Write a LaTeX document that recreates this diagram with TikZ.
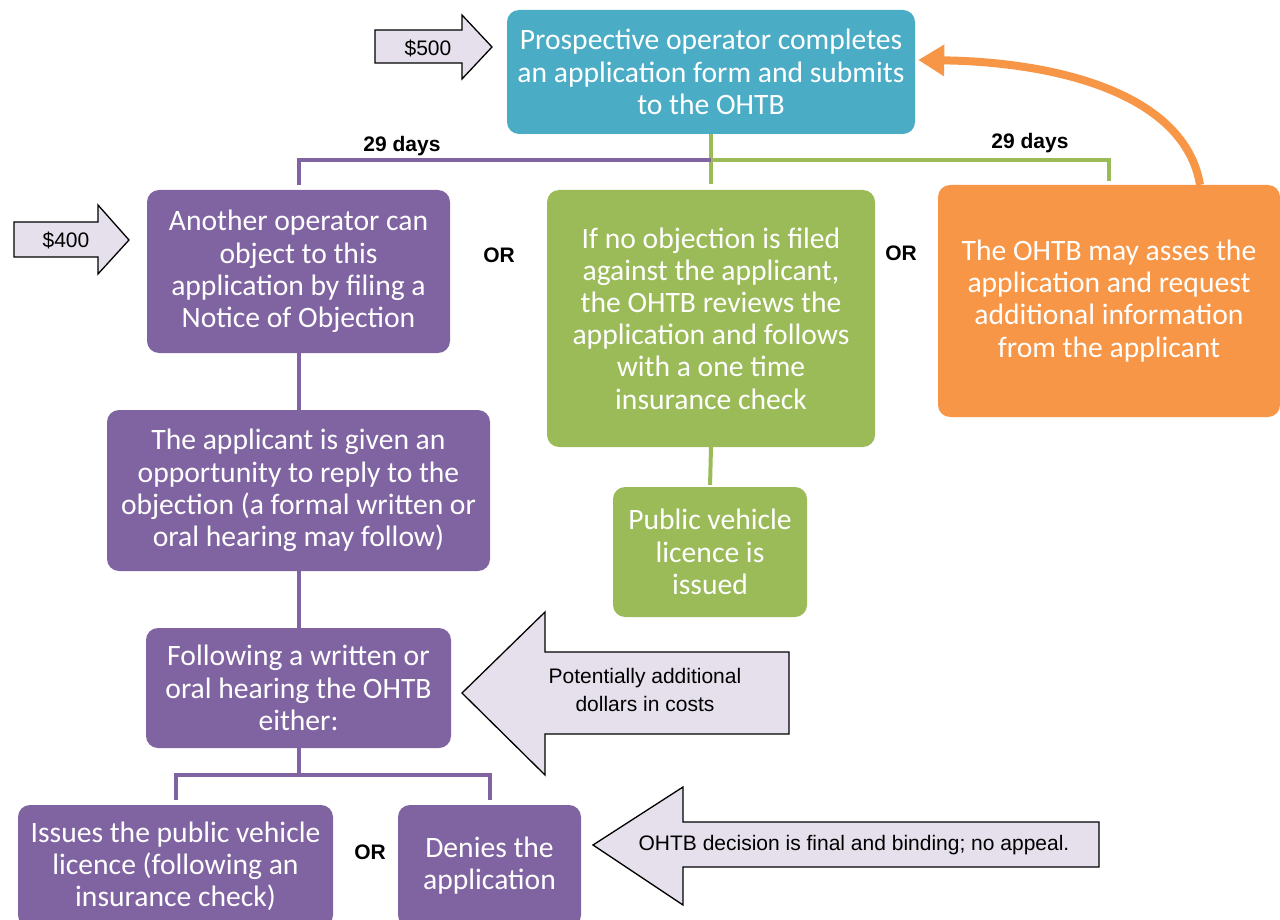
\documentclass[tikz,border=0pt]{standalone}
\usepackage{fontspec}
\setmainfont{Carlito}
\newfontfamily\arialf{Liberation Sans}
\usetikzlibrary{arrows.meta}
\definecolor{cteal}{HTML}{4BACC6}
\definecolor{cpurple}{HTML}{8064A2}
\definecolor{cgreen}{HTML}{9BBB59}
\definecolor{corange}{HTML}{F79646}
\definecolor{clav}{HTML}{E5E0EC}
\begin{document}
\begin{tikzpicture}[x=1pt,y=-1pt,
  box/.style={rounded corners=12pt, text=white, align=center, inner sep=0pt,
    font=\fontsize{29.6}{32.2}\selectfont},
  callout/.style={draw=black, line width=1.3pt, fill=clav},
  callouttext/.style={align=center, font=\arialf\fontsize{21}{28}\selectfont, inner sep=0pt},
  lbl/.style={font=\arialf\bfseries\fontsize{21}{22}\selectfont, inner sep=0pt},
  pline/.style={cpurple, line width=4pt},
  gline/.style={cgreen, line width=4pt}]
\useasboundingbox (0,0) rectangle (1280,920);

% boxes
\node[box, fill=cteal, minimum width=408, minimum height=124] (top) at (711,72)
  {Prospective operator completes\\an application form and submits\\to the OHTB};
\node[box, fill=cpurple, minimum width=303, minimum height=163] (p1) at (298.5,271.5)
  {Another operator can\\object to this\\application by filing a\\Notice of Objection};
\node[box, fill=cgreen, minimum width=328, minimum height=257] (g1) at (711,318.5)
  {If no objection is filed\\against the applicant,\\the OHTB reviews the\\application and follows\\with a one time\\insurance check};
\node[box, fill=corange, minimum width=342, minimum height=232] (or) at (1109,301)
  {The OHTB may asses the\\application and request\\additional information\\from the applicant};
\node[box, fill=cpurple, minimum width=383, minimum height=161] (p2) at (298.5,490.5)
  {The applicant is given an\\opportunity to reply to the\\objection (a formal written or\\oral hearing may follow)};
\node[box, fill=cgreen, minimum width=194, minimum height=130] (g2) at (710,552)
  {Public vehicle\\licence is\\issued};
\node[box, fill=cpurple, minimum width=305, minimum height=120] (p3) at (298.5,688)
  {Following a written or\\oral hearing the OHTB\\either:};
\node[box, fill=cpurple, minimum width=315, minimum height=122] (p4) at (175.5,866)
  {Issues the public vehicle\\licence (following an\\insurance check)};
\node[box, fill=cpurple, minimum width=183, minimum height=122] (p5) at (489.5,866)
  {Denies the\\application};

% connectors
\draw[gline, shorten >=6pt] (top.south) -- (g1.north);
\draw[pline] (top.south |- 0,160) -| ([yshift=5pt]p1.north);
\draw[gline] (top.south |- 0,160) -| ([yshift=4pt]or.north);
\draw[pline] (p1.south) -- (p2.north);
\draw[pline] (p2.south) -- (p3.north);
\draw[gline, shorten >=2pt] (g1.south) -- (g2.north);
\coordinate (split) at (298.5,775);
\draw[pline] (p3.south) -- (split);
\draw[pline] ([yshift=5pt]p4.north) |- (split) -| ([yshift=5pt]p5.north);

% orange return arrow
\draw[corange, line width=8pt, -{Triangle[length=26pt,width=30pt]}]
  ([xshift=91pt]or.north) .. controls (1185,95) and (1060,62) .. ([xshift=3pt,yshift=12pt]top.east);

% labels
\node[lbl] (d1) at (402,146) {29 days};
\node[lbl] (d2) at (1030,143) {29 days};
\node[lbl] (or1) at (499,255) {OR};
\node[lbl] (or2) at (901,253) {OR};
\node[lbl] (or3) at (370,852) {OR};

% callout arrows
\draw[callout] (375,30) -- (462,30) -- (462,15) -- (492,47) -- (462,79) -- (462,63) -- (375,63) -- cycle;
\node[callouttext] (c500) at (428,48) {\$500};
\draw[callout] (14,222) -- (98,222) -- (98,205) -- (129,240) -- (98,274) -- (98,257) -- (14,257) -- cycle;
\node[callouttext] (c400) at (66,240) {\$400};
\draw[callout] (462,693) -- (545,612) -- (545,652) -- (789,652) -- (789,734) -- (545,734) -- (545,775) -- cycle;
\node[callouttext] (cpot) at (645,690) {Potentially additional\\dollars in costs};
\draw[callout] (593,845) -- (683,787) -- (683,822) -- (1099,822) -- (1099,867) -- (683,867) -- (683,905) -- cycle;
\node[callouttext] (cfin) at (854,845) {OHTB decision is final and binding; no appeal.};
\end{tikzpicture}
\end{document}
